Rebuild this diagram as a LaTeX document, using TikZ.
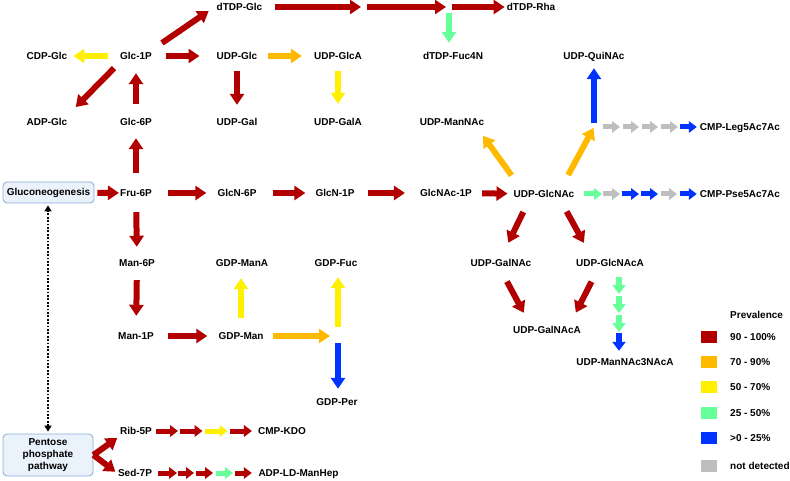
\documentclass[tikz,border=0pt]{standalone}
\usepackage{fontspec}
\setmainfont{Liberation Sans}
\usetikzlibrary{arrows.meta,calc}

\definecolor{pred}{RGB}{178,0,0}
\definecolor{porange}{RGB}{255,186,0}
\definecolor{pyellow}{RGB}{255,240,0}
\definecolor{pgreen}{RGB}{102,255,153}
\definecolor{pblue}{RGB}{0,51,255}
\definecolor{pgray}{RGB}{190,190,190}
\definecolor{boxfill}{RGB}{234,242,252}
\definecolor{boxline}{RGB}{140,170,215}

\tikzset{
  met/.style={font=\bfseries, inner sep=0pt, text height=7pt, text depth=0pt},
  pathbox/.style={draw=boxline, fill=boxfill, rounded corners=4pt, line width=0.8pt, font=\bfseries, align=center, inner sep=0pt},
  flow/.style={line width=6pt, -{Triangle[length=11pt,width=14pt]}},
  hop/.style={line width=5pt, -{Triangle[length=8pt,width=11.5pt]}},
  hopwide/.style={line width=6pt, -{Triangle[length=9pt,width=13pt]}},
  dots/.style={line width=1.8pt, dash pattern=on 1.8pt off 1.6pt, {Triangle[length=6pt,width=7pt]}-{Triangle[length=6pt,width=7pt]}},
  swatch/.style={minimum width=16pt, minimum height=12pt, inner sep=0pt},
  legtext/.style={met, anchor=west}
}

\begin{document}
\begin{tikzpicture}[x=1pt, y=-1pt]
    \useasboundingbox (0,0) rectangle (790,481);

    % metabolites
    \node[met] (dtdpglc) at (239.5,7) {dTDP-Glc};
    \node[met] (dtdprha) at (531,7) {dTDP-Rha};
    \node[met] (cdpglc) at (47,56) {CDP-Glc};
    \node[met] (glc1p) at (136,56) {Glc-1P};
    \node[met] (udpglc) at (237,56) {UDP-Glc};
    \node[met] (udpglca) at (338,56) {UDP-GlcA};
    \node[met] (dtdpfuc) at (453,56) {dTDP-Fuc4N};
    \node[met] (udpquinac) at (594,56) {UDP-QuiNAc};
    \node[met] (adpglc) at (47,122) {ADP-Glc};
    \node[met] (glc6p) at (136,122) {Glc-6P};
    \node[met] (udpgal) at (237,122) {UDP-Gal};
    \node[met] (udpgala) at (338,122) {UDP-GalA};
    \node[met] (udpmannac) at (452,122) {UDP-ManNAc};
    \node[met] (cmpleg) at (740,127) {CMP-Leg5Ac7Ac};
    \node[pathbox, minimum width=91pt, minimum height=21pt] (gluco) at (48.5,192.5) {Gluconeogenesis};
    \node[met] (fru6p) at (136,193) {Fru-6P};
    \node[met] (glcn6p) at (237,193) {GlcN-6P};
    \node[met] (glcn1p) at (335,193) {GlcN-1P};
    \node[met] (glcnac1p) at (446,193) {GlcNAc-1P};
    \node[met] (udpglcnac) at (544,194) {UDP-GlcNAc};
    \node[met] (cmppse) at (740,194) {CMP-Pse5Ac7Ac};
    \node[met] (man6p) at (137,263) {Man-6P};
    \node[met] (gdpmana) at (242,263) {GDP-ManA};
    \node[met] (gdpfuc) at (336,263) {GDP-Fuc};
    \node[met] (udpgalnac) at (501,263) {UDP-GalNAc};
    \node[met] (udpglcnaca) at (610,263) {UDP-GlcNAcA};
    \node[met] (udpgalnaca) at (547,330) {UDP-GalNAcA};
    \node[met] (man1p) at (136,336) {Man-1P};
    \node[met] (gdpman) at (241,336) {GDP-Man};
    \node[met] (udpmannac3) at (625,362) {UDP-ManNAc3NAcA};
    \node[met] (gdpper) at (337,402) {GDP-Per};
    \node[pathbox, minimum width=90pt, minimum height=42pt] (pentose) at (48,455) {Pentose\\phosphate\\pathway};
    \node[met] (rib5p) at (136,431) {Rib-5P};
    \node[met] (sed7p) at (135,473) {Sed-7P};
    \node[met] (cmpkdo) at (282,431) {CMP-KDO};
    \node[met] (adpld) at (298.5,473) {ADP-LD-ManHep};

    % junctions and steps
    \coordinate (jd1) at (364,7);
    \coordinate (jd2) at (449,7);
    \coordinate (jq) at (594,127);
    \coordinate (jf) at (338,336);
    \coordinate (kl1) at (621.5,127);
    \coordinate (kl2) at (640.5,127);
    \coordinate (kl3) at (659.5,127);
    \coordinate (kl4) at (679,127);
    \coordinate (kp1) at (602.5,194);
    \coordinate (kp2) at (621,194);
    \coordinate (kp3) at (640,194);
    \coordinate (kp4) at (659.5,194);
    \coordinate (kp5) at (679,194);
    \coordinate (kr1) at (178.5,431);
    \coordinate (kr2) at (203.5,431);
    \coordinate (kr3) at (228.5,431);
    \coordinate (ks1) at (177.5,473);
    \coordinate (ks2) at (195.5,473);
    \coordinate (ks3) at (214.5,473);
    \coordinate (ks4) at (234,473);
    \coordinate (km1) at (619,295);
    \coordinate (km2) at (619,314);
    \coordinate (km3) at (619,332.5);

    % glucose branch
    \draw[flow, pred, shorten <=23pt, shorten >=7pt] ([xshift=7pt]glc1p.center) -- ([xshift=-25pt]dtdpglc.center);
    \draw[flow, pred, shorten <=17pt, shorten >=21pt] ([xshift=-10pt]glc1p.center) -- ([xshift=14pt]adpglc.center);
    \draw[flow, pyellow, shorten <=12pt, shorten >=6pt] (glc1p) -- (cdpglc);
    \draw[flow, pred, shorten <=14pt, shorten >=17pt] (glc1p) -- (udpglc);
    \draw[flow, pred, shorten <=14.5pt, shorten >=13.5pt] (glc6p) -- (glc1p);
    \draw[flow, pred, shorten <=11.5pt, shorten >=13.5pt] (udpglc) -- (udpgal);
    \draw[flow, porange, shorten <=11pt, shorten >=12pt] (udpglc) -- (udpglca);
    \draw[flow, pyellow, shorten <=11.5pt, shorten >=14.5pt] (udpglca) -- (udpgala);

    \draw[flow, pred, shorten <=13pt, shorten >=3pt] (dtdpglc) -- (jd1);
    \draw[flow, pred, shorten <=3pt, shorten >=3pt] (jd1) -- (jd2);
    \draw[flow, pred, shorten <=3pt, shorten >=2pt] (jd2) -- (dtdprha);
    \draw[flow, pgreen, shorten <=6pt, shorten >=9.5pt] (jd2) -- (jd2 |- dtdpfuc.north);

    % fructose and amino sugars
    \draw[flow, pred, shorten <=3pt, shorten >=1pt] (gluco) -- (fru6p);
    \draw[flow, pred, shorten <=16.5pt, shorten >=12.5pt] (fru6p) -- (glc6p);
    \draw[flow, pred, shorten <=16pt, shorten >=11pt] (fru6p) -- (glcn6p);
    \draw[flow, pred, shorten <=16pt, shorten >=10pt] (glcn6p) -- (glcn1p);
    \draw[flow, pred, shorten <=13pt, shorten >=15pt] (glcn1p) -- (glcnac1p);
    \draw[flow, pred, shorten <=10pt, shorten >=6pt] (glcnac1p) -- (udpglcnac);

    \draw[flow, porange, shorten <=23pt, shorten >=17pt] ([xshift=-19pt]udpglcnac.center) -- ([xshift=21pt]udpmannac.center);
    \draw[flow, porange, shorten <=21.5pt, shorten >=1pt] ([xshift=14pt]udpglcnac.center) -- (jq);
    \draw[flow, pblue, shorten <=4pt, shorten >=8.5pt] (jq) -- (udpquinac);
    \draw[flow, pred, shorten <=20pt, shorten >=22.5pt] ([xshift=-12pt]udpglcnac.center) -- ([xshift=-2.5pt]udpgalnac.center);
    \draw[flow, pred, shorten <=20pt, shorten >=23pt] ([xshift=13pt]udpglcnac.center) -- ([xshift=-15pt]udpglcnaca.center);
    \draw[flow, pred, shorten <=21pt, shorten >=19.5pt] ([xshift=-4pt]udpgalnac.center) -- ([xshift=-14pt]udpgalnaca.center);
    \draw[flow, pred, shorten <=21pt, shorten >=19.5pt] ([xshift=-9pt]udpglcnaca.center) -- ([xshift=20pt]udpgalnaca.center);

    \draw[hop, pgray, shorten <=9pt, shorten >=1.5pt] (jq) -- (kl1);
    \draw[hop, pgray, shorten <=1.5pt, shorten >=1.5pt] (kl1) -- (kl2);
    \draw[hop, pgray, shorten <=1.5pt, shorten >=1.5pt] (kl2) -- (kl3);
    \draw[hop, pgray, shorten <=1.5pt, shorten >=1pt] (kl3) -- (kl4);
    \draw[hop, pblue, shorten <=1pt, shorten >=3pt] (kl4) -- (cmpleg);

    \draw[hop, pgreen, shorten <=10pt, shorten >=0.5pt] (udpglcnac) -- (kp1);
    \draw[hop, pgray, shorten <=0.5pt, shorten >=1pt] (kp1) -- (kp2);
    \draw[hop, pblue, shorten <=1pt, shorten >=1pt] (kp2) -- (kp3);
    \draw[hop, pblue, shorten <=1pt, shorten >=1.5pt] (kp3) -- (kp4);
    \draw[hop, pgray, shorten <=1.5pt, shorten >=2pt] (kp4) -- (kp5);
    \draw[hop, pblue, shorten <=1pt, shorten >=3pt] (kp5) -- (cmppse);

    \draw[hopwide, pgreen, shorten <=10pt, shorten >=1pt] (udpglcnaca.south -| km1) -- (km1);
    \draw[hopwide, pgreen, shorten <=1pt, shorten >=1pt] (km1) -- (km2);
    \draw[hopwide, pgreen, shorten <=1pt, shorten >=0.5pt] (km2) -- (km3);
    \draw[hopwide, pblue, shorten <=0.5pt, shorten >=7.5pt] (km3) -- (km3 |- udpmannac3.north);

    % mannose branch
    \draw[flow, pred, shorten <=15.5pt, shorten >=12.5pt] (fru6p) -- (man6p);
    \draw[flow, pred, shorten <=13.5pt, shorten >=16.5pt] (man6p) -- (man1p);
    \draw[flow, pred, shorten <=14pt, shorten >=11pt] (man1p) -- (gdpman);
    \draw[flow, pyellow, shorten <=14.5pt, shorten >=11.5pt] (gdpman) -- (gdpman |- gdpmana.south);
    \draw[flow, porange, shorten <=9.5pt, shorten >=8pt] (gdpman) -- (jf);
    \draw[flow, pyellow, shorten <=9pt, shorten >=10.5pt] (jf) -- (jf |- gdpfuc.south);
    \draw[flow, pblue, shorten <=7pt, shorten >=9.5pt] (jf) -- (jf |- gdpper.north);

    % pentose phosphate branch
    \draw[dots, shorten <=2pt, shorten >=2pt] (pentose.north) -- (pentose.north |- gluco.south);
    \draw[flow, pred, shorten >=12pt] (pentose.east) -- ([xshift=-9pt]rib5p.center);
    \draw[flow, pred, shorten >=2pt] (pentose.east) -- ([xshift=-18pt]sed7p.center);

    \draw[hop, pred, shorten <=3.5pt, shorten >=0.5pt] (rib5p) -- (kr1);
    \draw[hop, pred, shorten <=1pt, shorten >=1pt] (kr1) -- (kr2);
    \draw[hop, pyellow, shorten <=1pt, shorten >=1pt] (kr2) -- (kr3);
    \draw[hop, pred, shorten <=1pt, shorten >=6pt] (kr3) -- (cmpkdo);

    \draw[hop, pred, shorten <=6pt, shorten >=0.5pt] (sed7p) -- (ks1);
    \draw[hop, pred, shorten <=0.5pt, shorten >=1.5pt] (ks1) -- (ks2);
    \draw[hop, pred, shorten <=0.5pt, shorten >=1.5pt] (ks2) -- (ks3);
    \draw[hop, pgreen, shorten <=1.5pt, shorten >=1pt] (ks3) -- (ks4);
    \draw[hop, pred, shorten <=1pt, shorten >=6.5pt] (ks4) -- (adpld);

    % legend
    \node[legtext] (prevtitle) at (730,315) {Prevalence};
    \node[swatch, fill=pred] (sw1) at (709,337) {};
    \node[swatch, fill=porange] (sw2) at (709,362) {};
    \node[swatch, fill=pyellow] (sw3) at (709,387) {};
    \node[swatch, fill=pgreen] (sw4) at (709,413) {};
    \node[swatch, fill=pblue] (sw5) at (709,438) {};
    \node[swatch, fill=pgray] (sw6) at (709,466) {};
    \node[legtext] (lg1) at (730,337) {90 - 100\%};
    \node[legtext] (lg2) at (730,362) {70 - 90\%};
    \node[legtext] (lg3) at (730,387) {50 - 70\%};
    \node[legtext] (lg4) at (730,413) {25 - 50\%};
    \node[legtext] (lg5) at (730,438) {>0 - 25\%};
    \node[legtext] (lg6) at (730,466) {not detected};
\end{tikzpicture}
\end{document}
